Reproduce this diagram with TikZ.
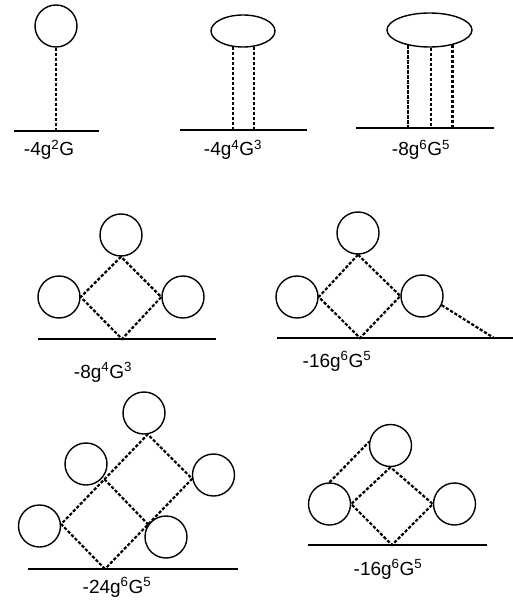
\documentclass[tikz,border=0pt]{standalone}
\usepackage{fontspec}
\setmainfont{Liberation Sans}
\usetikzlibrary{shapes.geometric,calc}
\tikzset{
  bola/.style={circle,draw,line width=1.4pt,minimum size=42pt,inner sep=0pt},
  ovalo/.style={ellipse,draw,line width=1.4pt,inner sep=0pt},
  enlace/.style={line width=2.2pt,dash pattern=on 3.2pt off 1.8pt},
  suelo/.style={line width=1.6pt},
  coef/.style={anchor=base,inner sep=0pt,font=\fontsize{19}{22}\selectfont}
}
\begin{document}
\begin{tikzpicture}[x=1pt,y=-1pt]
  \useasboundingbox (0,0) rectangle (513,604);
  % fila de arriba: un lazo y dos lazos fusionados
  \node[bola] (c1) at (56,26) {};
  \node[ovalo,minimum width=64pt,minimum height=32pt] (o2) at (243,31) {};
  \node[ovalo,minimum width=85pt,minimum height=34pt] (o3) at (429.5,30) {};
  \coordinate (b1) at (14,131);  \coordinate (e1) at (99,131);
  \coordinate (b2) at (180,130); \coordinate (e2) at (307,130);
  \coordinate (b3) at (356,128); \coordinate (e3) at (494,128);
  \foreach \i in {1,2,3}
    {\draw[suelo] (b\i) -- (e\i);}
  \draw[enlace] (c1.south) -- (c1.south |- b1);
  \foreach \a in {237,306}
    {\draw[enlace] (o2.\a) -- (o2.\a |- b2);}
  \foreach \a in {216,275,327}
    {\draw[enlace] (o3.\a) -- (o3.\a |- b3);}
  \node[coef] (t1) at (49,156) {-4g\textsuperscript{2}G};
  \node[coef] (t2) at (233,156) {-4g\textsuperscript{4}G\textsuperscript{3}};
  \node[coef] (t3) at (421,156) {-8g\textsuperscript{6}G\textsuperscript{5}};

  % fila del medio
  \node[bola] (a4) at (121,235) {};
  \node[bola] (l4) at (59,297) {};
  \node[bola] (r4) at (183,297) {};
  \coordinate (v4) at (122,339);
  \draw[suelo] (38,339) -- (216,339);
  \draw[enlace] (a4.south) -- (l4.east) -- (v4) -- (r4.west) -- (a4.south);
  \node[coef] (t4) at (103,378) {-8g\textsuperscript{4}G\textsuperscript{3}};

  \node[bola] (a5) at (358,233) {};
  \node[bola] (l5) at (297,297) {};
  \node[bola] (r5) at (422,296) {};
  \coordinate (v5) at (360,338);
  \coordinate (f5) at (494,338);
  \draw[suelo] (277,338) -- (513,338);
  \draw[enlace] (a5.south) -- (l5.east) -- (v5) -- (r5.west) -- (a5.south);
  \draw[enlace] (r5.-25) -- (f5);
  \node[coef] (t5) at (337,367) {-16g\textsuperscript{6}G\textsuperscript{5}};

  % fila de abajo
  \node[bola] (a6) at (144,413) {};
  \node[bola] (m6) at (86,464) {};
  \node[bola] (r6) at (213.5,475) {};
  \node[bola] (l6) at (39.5,526) {};
  \node[bola] (n6) at (166,537) {};
  \coordinate (v6) at (105,569);
  \coordinate (q6) at ($(l6.5)!.5!(a6.-80)$);
  \draw[suelo] (28,569) -- (238,569);
  \draw[enlace] (v6) -- (l6.5) -- (a6.-80) -- (r6.190) -- (v6);
  \draw[enlace] (q6) -- (n6.145);
  \node[coef] (t6) at (117,593) {-24g\textsuperscript{6}G\textsuperscript{5}};

  \node[bola] (a7) at (390.5,445.5) {};
  \node[bola] (l7) at (329.5,504) {};
  \node[bola] (r7) at (454.5,504) {};
  \coordinate (v7) at (392,545);
  \draw[suelo] (308,545) -- (487,545);
  \draw[enlace] (l7.north) -- (a7.170);
  \draw[enlace] (a7.south) -- (l7.east) -- (v7) -- (r7.west) -- (a7.south);
  \node[coef] (t7) at (388,575) {-16g\textsuperscript{6}G\textsuperscript{5}};
\end{tikzpicture}
\end{document}
